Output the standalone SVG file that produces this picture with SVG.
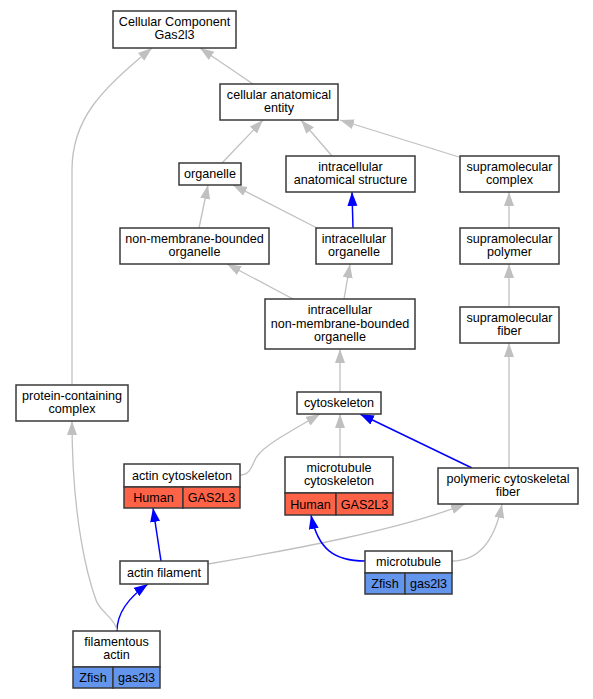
<svg xmlns="http://www.w3.org/2000/svg" width="593" height="699" viewBox="0 0 593 699">
<style>
.bg{fill:#ffffff}
.box{fill:#ffffff;stroke:#3a3a3a;stroke-width:1.5}
.hum{fill:#ff6347;stroke:#3a3a3a;stroke-width:1.5}
.zf{fill:#6495ed;stroke:#3a3a3a;stroke-width:1.5}
text{font-family:"Liberation Sans",Arial,sans-serif;font-size:12.6px;fill:#000000;text-anchor:middle}
.g{fill:none;stroke:#c0c0c0;stroke-width:1.3}
.b{fill:none;stroke:#0000ff;stroke-width:1.5}
</style>
<defs>
<marker id="ag" markerUnits="userSpaceOnUse" markerWidth="15" markerHeight="11" refX="14" refY="5" orient="auto">
<path d="M0,0 L14,5 L0,10 z" fill="#c0c0c0"/>
</marker>
<marker id="ab" markerUnits="userSpaceOnUse" markerWidth="15" markerHeight="11" refX="14" refY="5" orient="auto">
<path d="M0,0 L14,5 L0,10 z" fill="#0000ff"/>
</marker>
</defs>
<rect class="bg" x="0" y="0" width="593" height="699"/>
<g id="connectors">
<path class="g" marker-end="url(#ag)" d="M253,84 L200,48"/>
<path class="g" marker-end="url(#ag)" d="M72,385 L72,170 C72,120 100,90 152,48"/>
<path class="g" marker-end="url(#ag)" d="M222,163 L263,120"/>
<path class="g" marker-end="url(#ag)" d="M332,156 L301,120"/>
<path class="g" marker-end="url(#ag)" d="M459,157 L340,120"/>
<path class="g" marker-end="url(#ag)" d="M199,228 L208,185"/>
<path class="g" marker-end="url(#ag)" d="M317,228 L233,185"/>
<path class="b" marker-end="url(#ab)" d="M353,228 L352,192"/>
<path class="g" marker-end="url(#ag)" d="M293,299 L227,264"/>
<path class="g" marker-end="url(#ag)" d="M344,299 L350,264"/>
<path class="g" marker-end="url(#ag)" d="M509,228 L509,192"/>
<path class="g" marker-end="url(#ag)" d="M509,307 L509,264"/>
<path class="g" marker-end="url(#ag)" d="M340,392 L340,349"/>
<path class="g" marker-end="url(#ag)" d="M509,468 L509,343"/>
<path class="g" marker-end="url(#ag)" d="M240,475 C252,475 252,462 258,455 C268,443 290,432 320,414"/>
<path class="g" marker-end="url(#ag)" d="M340,457 L340,414"/>
<path class="b" marker-end="url(#ab)" d="M472,468 L360,414"/>
<path class="b" marker-end="url(#ab)" d="M161,561 L153,508"/>
<path class="g" marker-end="url(#ag)" d="M208,564 C290,550 400,530 465,504"/>
<path class="b" marker-end="url(#ab)" d="M365,561 C335,561 318,550 311,515"/>
<path class="g" marker-end="url(#ag)" d="M452,561 C480,561 495,540 502,504"/>
<path class="b" marker-end="url(#ab)" d="M117,631 C117,615 125,600 148,584"/>
<path class="g" marker-end="url(#ag)" d="M117,630 C114,617 100,612 96,600 C88,578 72,520 72,421"/>
</g>
<g id="n_cc">
<rect class="box" x="113" y="11" width="123" height="37"/>
<text x="174.5" y="26">Cellular Component</text>
<text x="174.5" y="39">Gas2l3</text>
</g>
<g id="n_cae">
<rect class="box" x="220" y="84" width="118" height="36"/>
<text x="279" y="99">cellular anatomical</text>
<text x="279" y="112">entity</text>
</g>
<g id="n_org">
<rect class="box" x="179" y="163" width="62" height="22"/>
<text x="210" y="178">organelle</text>
</g>
<g id="n_ias">
<rect class="box" x="286" y="156" width="129" height="36"/>
<text x="350.5" y="171">intracellular</text>
<text x="350.5" y="184">anatomical structure</text>
</g>
<g id="n_smc">
<rect class="box" x="460" y="156" width="99" height="36"/>
<text x="509.5" y="171">supramolecular</text>
<text x="509.5" y="184">complex</text>
</g>
<g id="n_nmbo">
<rect class="box" x="120" y="228" width="149" height="36"/>
<text x="194.5" y="243">non-membrane-bounded</text>
<text x="194.5" y="256">organelle</text>
</g>
<g id="n_io">
<rect class="box" x="316" y="228" width="76" height="36"/>
<text x="354" y="243">intracellular</text>
<text x="354" y="256">organelle</text>
</g>
<g id="n_smp">
<rect class="box" x="460" y="228" width="99" height="36"/>
<text x="509.5" y="243">supramolecular</text>
<text x="509.5" y="256">polymer</text>
</g>
<g id="n_inmbo">
<rect class="box" x="265" y="299" width="150" height="50"/>
<text x="340" y="313.8">intracellular</text>
<text x="340" y="327.5">non-membrane-bounded</text>
<text x="340" y="341.2">organelle</text>
</g>
<g id="n_smf">
<rect class="box" x="460" y="307" width="99" height="36"/>
<text x="509.5" y="322">supramolecular</text>
<text x="509.5" y="335">fiber</text>
</g>
<g id="n_pcc">
<rect class="box" x="16" y="385" width="112" height="36"/>
<text x="72" y="400">protein-containing</text>
<text x="72" y="413">complex</text>
</g>
<g id="n_cyto">
<rect class="box" x="297" y="392" width="84" height="22"/>
<text x="339" y="407">cytoskeleton</text>
</g>
<g id="n_actcyto">
<rect class="box" x="124" y="464" width="116" height="23"/>
<rect class="hum" x="124" y="487" width="59" height="21"/>
<rect class="hum" x="183" y="487" width="57" height="21"/>
<text x="182" y="480">actin cytoskeleton</text>
<text x="153.5" y="502">Human</text>
<text x="211.5" y="502">GAS2L3</text>
</g>
<g id="n_mtcyto">
<rect class="box" x="285" y="457" width="108" height="36"/>
<rect class="hum" x="285" y="493" width="51" height="22"/>
<rect class="hum" x="336" y="493" width="57" height="22"/>
<text x="339" y="472">microtubule</text>
<text x="339" y="485">cytoskeleton</text>
<text x="310.5" y="508.5">Human</text>
<text x="364.5" y="508.5">GAS2L3</text>
</g>
<g id="n_pcf">
<rect class="box" x="438" y="468" width="140" height="36"/>
<text x="508" y="483">polymeric cytoskeletal</text>
<text x="508" y="496">fiber</text>
</g>
<g id="n_af">
<rect class="box" x="120" y="561" width="88" height="23"/>
<text x="164" y="576.5">actin filament</text>
</g>
<g id="n_mt">
<rect class="box" x="365" y="551" width="87" height="22"/>
<rect class="zf" x="365" y="573" width="40" height="21"/>
<rect class="zf" x="405" y="573" width="47" height="21"/>
<text x="408.5" y="566">microtubule</text>
<text x="385" y="588">Zfish</text>
<text x="428.5" y="588">gas2l3</text>
</g>
<g id="n_fa">
<rect class="box" x="73" y="631" width="87" height="36"/>
<rect class="zf" x="73" y="667" width="40" height="21"/>
<rect class="zf" x="113" y="667" width="47" height="21"/>
<text x="116.5" y="646">filamentous</text>
<text x="116.5" y="659">actin</text>
<text x="93" y="682">Zfish</text>
<text x="136.5" y="682">gas2l3</text>
</g>
</svg>
